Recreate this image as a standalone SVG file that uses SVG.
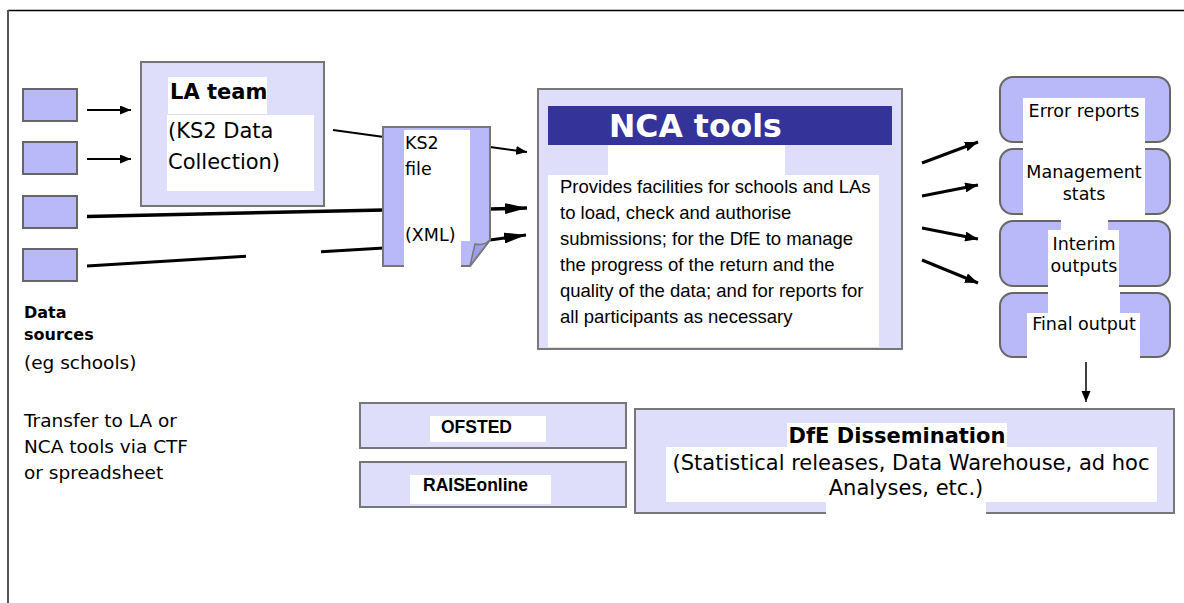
<svg xmlns="http://www.w3.org/2000/svg" width="1184" height="603" viewBox="0 0 1184 603">
<style>
.bg{fill:#ffffff}
.light{fill:#dedefb;stroke:#777777;stroke-width:2}
.mid{fill:#b9b9f9;stroke:#666666;stroke-width:2}
.wp{fill:#ffffff}
.ln{stroke:#000000;fill:none}
.dv{font-family:"DejaVu Sans","Liberation Sans",sans-serif;fill:#000}
.ar{font-family:"Liberation Sans",Arial,sans-serif;fill:#000}
.b{font-weight:bold}
.c{text-anchor:middle}
</style>
<defs>
<marker id="aS" markerUnits="userSpaceOnUse" markerWidth="11" markerHeight="9" refX="11" refY="4.5" orient="auto"><path d="M0,0 L11,4.5 L0,9 z" fill="#000"/></marker>
<marker id="aM" markerUnits="userSpaceOnUse" markerWidth="13" markerHeight="10" refX="13" refY="5" orient="auto"><path d="M0,0 L13,5 L0,10 z" fill="#000"/></marker>
<marker id="aL" markerUnits="userSpaceOnUse" markerWidth="22" markerHeight="11" refX="22" refY="5.5" orient="auto"><path d="M0,0 L22,5.5 L0,11 z" fill="#000"/></marker>
<marker id="aD" markerUnits="userSpaceOnUse" markerWidth="9" markerHeight="11" refX="11" refY="4.5" orient="auto"><path d="M0,0 L11,4.5 L0,9 z" fill="#000"/></marker>
</defs>
<rect class="bg" x="0" y="0" width="1184" height="603"/>
<g id="frame">
<line x1="8" y1="10.5" x2="1184" y2="10.5" stroke="#000" stroke-width="1.5"/>
<line x1="8" y1="10" x2="8" y2="603" stroke="#555" stroke-width="2"/>
</g>
<g id="connectors">
<line class="ln" x1="87" y1="110" x2="131" y2="110" stroke-width="2" marker-end="url(#aS)"/>
<line class="ln" x1="87" y1="159" x2="131" y2="159" stroke-width="2" marker-end="url(#aS)"/>
<line class="ln" x1="333" y1="130" x2="384" y2="137" stroke-width="2"/>
<line class="ln" x1="490" y1="147" x2="527" y2="152" stroke-width="2" marker-end="url(#aS)"/>
<line class="ln" x1="87" y1="216.5" x2="384" y2="210" stroke-width="3.5"/>
<line class="ln" x1="490" y1="209" x2="527" y2="208" stroke-width="3.5" marker-end="url(#aL)"/>
<line class="ln" x1="87" y1="266" x2="246" y2="256.3" stroke-width="3"/>
<line class="ln" x1="321" y1="251.8" x2="384" y2="248" stroke-width="3"/>
<line class="ln" x1="490" y1="240" x2="526" y2="235" stroke-width="3" marker-end="url(#aL)"/>
<line class="ln" x1="922" y1="163" x2="978" y2="142" stroke-width="3" marker-end="url(#aM)"/>
<line class="ln" x1="922" y1="196" x2="978" y2="185" stroke-width="3" marker-end="url(#aM)"/>
<line class="ln" x1="922" y1="228" x2="978" y2="239" stroke-width="3" marker-end="url(#aM)"/>
<line class="ln" x1="922" y1="260" x2="978" y2="283" stroke-width="3" marker-end="url(#aM)"/>
<line class="ln" x1="1086" y1="362" x2="1086" y2="402" stroke-width="1.5" marker-end="url(#aD)"/>
</g>
<g id="src1"><rect class="mid" x="23" y="89" width="54" height="32" stroke="#777"/></g>
<g id="src2"><rect class="mid" x="23" y="142" width="54" height="32" stroke="#777"/></g>
<g id="src3"><rect class="mid" x="23" y="196" width="54" height="32" stroke="#777"/></g>
<g id="src4"><rect class="mid" x="23" y="249" width="54" height="32" stroke="#777"/></g>
<g id="src-label">
<text class="dv b" x="24" y="318" font-size="16">Data</text>
<text class="dv b" x="24" y="340" font-size="16">sources</text>
<text class="dv" x="24" y="369" font-size="18.5">(eg schools)</text>
<text class="dv" x="24" y="427" font-size="18.5">Transfer to LA or</text>
<text class="dv" x="24" y="453" font-size="18.5">NCA tools via CTF</text>
<text class="dv" x="24" y="479" font-size="18.5">or spreadsheet</text>
</g>
<g id="la-team">
<rect class="light" x="141" y="62" width="183" height="144"/>
<rect class="wp" x="168" y="77" width="99" height="37"/>
<rect class="wp" x="167" y="115" width="147" height="76"/>
<text class="dv b" x="170" y="99" font-size="21">LA team</text>
<text class="dv" x="168" y="138" font-size="21">(KS2 Data</text>
<text class="dv" x="168" y="169" font-size="21">Collection)</text>
</g>
<g id="ks2-file">
<path d="M383,127 H490 V240 L470,266 H383 Z" fill="#b9b9f9" stroke="#777" stroke-width="2"/>
<path d="M404,130 H470 V241 H461 V267 H404 Z" fill="#fff"/>
<path d="M470,266 L475,244 Q484,246 490,240 Z" fill="#9f9fe6" stroke="#777" stroke-width="1.5"/>
<text class="dv" x="405" y="149" font-size="17.5">KS2</text>
<text class="dv" x="405" y="175" font-size="17.5">file</text>
<text class="dv" x="405" y="241" font-size="17.5">(XML)</text>
</g>
<g id="nca-tools">
<rect class="light" x="538" y="89" width="364" height="260"/>
<rect x="548" y="106" width="344" height="39" fill="#333399"/>
<rect class="wp" x="608" y="145" width="177" height="31"/>
<rect class="wp" x="548" y="175" width="331" height="172"/>
<text class="dv b" x="609" y="137" font-size="31.5" style="fill:#fff">NCA tools</text>
<text class="ar" x="560" y="193" font-size="18.5">Provides facilities for schools and LAs</text>
<text class="ar" x="560" y="219" font-size="18.5">to load, check and authorise</text>
<text class="ar" x="560" y="245" font-size="18.5">submissions; for the DfE to manage</text>
<text class="ar" x="560" y="271" font-size="18.5">the progress of the return and the</text>
<text class="ar" x="560" y="297" font-size="18.5">quality of the data; and for reports for</text>
<text class="ar" x="560" y="323" font-size="18.5">all participants as necessary</text>
</g>
<g id="error-reports">
<rect class="mid" x="1000" y="77" width="170" height="65" rx="13"/>
<rect class="wp" x="1023" y="98" width="122" height="46"/>
<text class="dv c" x="1084" y="117" font-size="17.5">Error reports</text>
</g>
<g id="management-stats">
<rect class="mid" x="1000" y="149" width="170" height="65" rx="13"/>
<rect class="wp" x="1023" y="144" width="122" height="72"/>
<text class="dv c" x="1084" y="178" font-size="17.5">Management</text>
<text class="dv c" x="1084" y="200" font-size="17.5">stats</text>
</g>
<g id="interim-outputs">
<rect class="mid" x="1000" y="221" width="170" height="65" rx="13"/>
<rect class="wp" x="1061" y="219" width="47" height="12"/>
<rect class="wp" x="1048" y="230" width="71" height="58"/>
<text class="dv c" x="1084" y="250" font-size="17.5">Interim</text>
<text class="dv c" x="1084" y="272" font-size="17.5">outputs</text>
</g>
<g id="final-output">
<rect class="mid" x="1000" y="293" width="170" height="64" rx="13"/>
<rect class="wp" x="1048" y="291" width="72" height="23"/>
<rect class="wp" x="1027" y="313" width="113" height="46"/>
<text class="dv c" x="1084" y="330" font-size="17.5">Final output</text>
</g>
<g id="ofsted">
<rect class="light" x="360" y="403" width="266" height="45"/>
<rect class="wp" x="430" y="416" width="116" height="26"/>
<text class="ar b" x="441" y="433" font-size="17.5">OFSTED</text>
</g>
<g id="raiseonline">
<rect class="light" x="360" y="462" width="266" height="45"/>
<rect class="wp" x="410" y="475" width="141" height="29"/>
<text class="ar b" x="423" y="491" font-size="17.5">RAISEonline</text>
</g>
<g id="dfe-dissemination">
<rect class="light" x="635" y="409" width="539" height="104"/>
<rect class="wp" x="787" y="423" width="220" height="25"/>
<rect class="wp" x="666" y="447" width="491" height="55"/>
<rect class="wp" x="826" y="500" width="160" height="15"/>
<text class="dv b c" x="897" y="443" font-size="21">DfE Dissemination</text>
<text class="dv c" x="911" y="470" font-size="21">(Statistical releases, Data Warehouse, ad hoc</text>
<text class="dv c" x="906" y="495" font-size="21">Analyses, etc.)</text>
</g>
</svg>
